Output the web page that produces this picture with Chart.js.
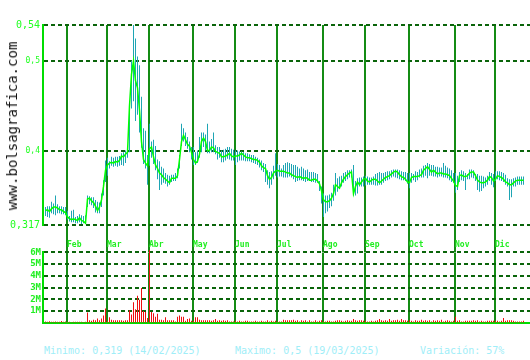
<!DOCTYPE html>
<html>
<head>
<meta charset="utf-8">
<script src="https://cdn.jsdelivr.net/npm/chart.js@4.4.1/dist/chart.umd.min.js"></script>
<style>
    body { margin: 0; background: #fff; width: 530px; height: 360px; overflow: hidden; position: relative; font-family: 'DejaVu Sans Mono', monospace; }
    #priceChart { position: absolute; left: 0; top: 0; }
    #volChart { position: absolute; left: 0; top: 245px; }
    .site { position: absolute; left: 12px; top: 126px; transform: translate(-50%, -50%) rotate(-90deg); font-size: 14px; color: #111; white-space: nowrap; }
    .info { position: absolute; top: 345px; font-size: 10px; line-height: 12px; color: #a0eef8; white-space: nowrap; }
</style>
</head>
<body>
<canvas id="priceChart" width="530" height="252"></canvas>
<canvas id="volChart" width="530" height="85"></canvas>
<div class="site">www.bolsagrafica.com</div>
<div class="info" style="left:44px">Minimo: 0,319 (14/02/2025)</div>
<div class="info" style="left:235px">Maximo: 0,5 (19/03/2025)</div>
<div class="info" style="left:420px">Variación: 57%</div>
<script>
// daily closes, one per trading day (Jan .. Dic)
const closes = [
    0.333,0.334,0.332,0.335,0.337,0.337,0.336,0.334,0.334,0.332,0.331,
    0.326,0.324,0.323,0.324,0.323,0.322,0.325,0.322,0.321,0.319,0.346,0.347,0.344,0.342,0.338,0.333,0.337,0.345,0.36,0.378,
    0.384,0.386,0.387,0.386,0.388,0.387,0.389,0.394,0.393,0.396,0.398,0.45,0.485,0.5,0.478,0.47,0.445,0.41,0.39,0.386,0.383,
    0.402,0.404,0.393,0.384,0.38,0.375,0.373,0.37,0.368,0.366,0.364,0.369,0.369,0.369,0.372,0.39,0.41,0.417,0.412,0.407,0.405,0.398,
    0.39,0.386,0.388,0.396,0.41,0.414,0.41,0.4,0.4,0.404,0.403,0.399,0.398,0.397,0.393,0.393,0.394,0.395,0.397,0.394,0.393,
    0.394,0.394,0.395,0.397,0.395,0.393,0.392,0.392,0.391,0.39,0.39,0.389,0.387,0.383,0.381,0.38,0.372,0.368,0.37,0.375,0.377,
    0.378,0.377,0.377,0.377,0.376,0.375,0.375,0.373,0.372,0.371,0.37,0.371,0.37,0.369,0.37,0.369,0.367,0.367,0.368,0.368,0.366,0.363,0.355,
    0.345,0.343,0.343,0.344,0.347,0.352,0.362,0.36,0.358,0.364,0.368,0.371,0.373,0.375,0.376,0.352,0.36,0.365,0.362,0.365,0.368,
    0.369,0.366,0.365,0.367,0.368,0.368,0.366,0.364,0.366,0.368,0.37,0.371,0.372,0.374,0.376,0.377,0.376,0.373,0.371,0.37,0.368,0.365,
    0.364,0.37,0.371,0.371,0.371,0.372,0.373,0.378,0.38,0.382,0.379,0.376,0.378,0.376,0.374,0.375,0.375,0.374,0.374,0.373,0.372,0.369,0.366,
    0.361,0.36,0.372,0.373,0.371,0.371,0.372,0.375,0.376,0.376,0.372,0.367,0.365,0.364,0.364,0.365,0.367,0.371,0.37,0.366,
    0.368,0.372,0.371,0.37,0.368,0.365,0.364,0.362,0.362,0.364,0.366,0.367,0.367,0.367,0.367
];
const highs = [
    0.337,0.338,0.338,0.343,0.341,0.35,0.34,0.338,0.338,0.337,0.337,
    0.333,0.327,0.333,0.334,0.326,0.327,0.329,0.328,0.327,0.328,0.35,0.349,0.348,0.348,0.345,0.343,0.342,0.352,0.367,0.389,
    0.392,0.388,0.393,0.392,0.393,0.393,0.394,0.397,0.398,0.4,0.4,0.453,0.5,0.54,0.525,0.505,0.495,0.46,0.425,0.422,0.395,
    0.43,0.41,0.412,0.405,0.39,0.388,0.382,0.38,0.375,0.373,0.372,0.373,0.373,0.375,0.38,0.395,0.43,0.425,0.42,0.415,0.41,0.404,
    0.404,0.398,0.4,0.415,0.42,0.42,0.418,0.43,0.41,0.413,0.42,0.406,0.404,0.404,0.4,0.401,0.402,0.404,0.404,0.402,0.401,
    0.4,0.4,0.399,0.399,0.398,0.397,0.397,0.396,0.395,0.395,0.393,0.392,0.39,0.389,0.386,0.385,0.378,0.376,0.377,0.383,0.397,
    0.385,0.384,0.38,0.384,0.386,0.387,0.386,0.385,0.384,0.384,0.382,0.38,0.382,0.38,0.378,0.379,0.376,0.376,0.376,0.375,0.374,0.366,0.36,
    0.352,0.35,0.35,0.351,0.353,0.362,0.375,0.369,0.371,0.372,0.375,0.376,0.378,0.378,0.379,0.384,0.366,0.369,0.37,0.37,0.371,
    0.372,0.371,0.37,0.37,0.371,0.374,0.375,0.376,0.375,0.375,0.376,0.377,0.377,0.378,0.379,0.379,0.379,0.378,0.377,0.376,0.376,0.375,
    0.375,0.375,0.374,0.377,0.376,0.379,0.38,0.383,0.384,0.386,0.385,0.384,0.384,0.382,0.382,0.381,0.381,0.386,0.383,0.381,0.38,0.378,0.375,
    0.375,0.372,0.376,0.378,0.377,0.375,0.374,0.379,0.379,0.378,0.374,0.374,0.372,0.372,0.371,0.37,0.372,0.376,0.375,0.374,
    0.377,0.377,0.377,0.376,0.375,0.373,0.369,0.368,0.368,0.369,0.37,0.371,0.371,0.371,0.371
];
const lows = [
    0.327,0.326,0.325,0.33,0.329,0.328,0.33,0.33,0.329,0.329,0.328,
    0.323,0.321,0.32,0.32,0.319,0.319,0.32,0.318,0.319,0.318,0.337,0.34,0.339,0.336,0.331,0.33,0.33,0.337,0.35,0.365,
    0.372,0.38,0.383,0.382,0.383,0.382,0.383,0.384,0.383,0.386,0.392,0.398,0.447,0.455,0.433,0.44,0.42,0.403,0.385,0.38,0.362,
    0.383,0.392,0.385,0.378,0.368,0.356,0.362,0.364,0.363,0.36,0.362,0.365,0.366,0.366,0.369,0.38,0.405,0.41,0.405,0.402,0.398,0.39,
    0.384,0.384,0.386,0.392,0.398,0.404,0.4,0.397,0.397,0.398,0.398,0.396,0.39,0.392,0.387,0.387,0.389,0.391,0.39,0.389,0.389,
    0.384,0.387,0.389,0.389,0.389,0.388,0.388,0.388,0.387,0.386,0.385,0.384,0.381,0.378,0.376,0.365,0.362,0.358,0.362,0.368,0.372,
    0.37,0.371,0.371,0.37,0.37,0.37,0.371,0.37,0.368,0.365,0.366,0.367,0.367,0.366,0.365,0.366,0.366,0.365,0.365,0.364,0.364,0.355,0.341,
    0.326,0.33,0.332,0.336,0.338,0.344,0.35,0.354,0.358,0.36,0.364,0.366,0.368,0.37,0.37,0.35,0.35,0.352,0.36,0.36,0.36,
    0.361,0.362,0.362,0.362,0.362,0.361,0.361,0.362,0.362,0.364,0.366,0.367,0.368,0.37,0.371,0.37,0.369,0.368,0.367,0.367,0.366,0.363,
    0.358,0.364,0.367,0.365,0.367,0.37,0.37,0.37,0.372,0.369,0.372,0.372,0.371,0.371,0.37,0.371,0.371,0.37,0.37,0.369,0.367,0.365,0.364,
    0.353,0.356,0.365,0.367,0.366,0.356,0.368,0.368,0.37,0.369,0.366,0.356,0.354,0.355,0.358,0.36,0.362,0.366,0.362,0.359,
    0.366,0.368,0.367,0.366,0.365,0.362,0.36,0.345,0.348,0.36,0.36,0.362,0.362,0.362,0.362
];
// volume in millions
const volumes = [
    0.1,0.08,0.12,0.08,0.08,0.1,0.08,0.08,0.14,0.08,0.1,
    0.08,0.08,0.06,0.08,0.08,0.08,0.08,0.08,0.06,0.08,0.87,0.2,0.15,0.25,0.2,0.35,0.2,0.35,0.6,1.2,
    0.15,0.45,0.25,0.2,0.2,0.2,0.2,0.2,0.15,0.2,0.2,1.05,0.7,1.75,1.15,2.3,1.95,2.95,1.0,0.9,0.4,
    6.2,0.9,0.8,0.5,0.75,0.25,0.25,0.2,0.45,0.2,0.2,0.2,0.2,0.1,0.5,0.6,0.5,0.5,0.15,0.3,0.35,0.15,
    0.15,0.45,0.45,0.25,0.2,0.2,0.2,0.2,0.2,0.15,0.2,0.3,0.15,0.2,0.15,0.2,0.15,0.2,0.1,0.1,0.1,
    0.15,0.1,0.15,0.1,0.1,0.15,0.15,0.1,0.1,0.1,0.15,0.1,0.1,0.15,0.1,0.1,0.2,0.1,0.15,0.1,0.15,
    0.1,0.1,0.1,0.25,0.2,0.2,0.2,0.2,0.25,0.15,0.2,0.1,0.2,0.15,0.2,0.1,0.2,0.1,0.1,0.2,0.1,0.15,0.2,
    0.1,0.1,0.15,0.15,0.1,0.1,0.15,0.2,0.2,0.15,0.1,0.15,0.2,0.15,0.15,0.3,0.2,0.15,0.2,0.2,0.15,
    0.15,0.1,0.1,0.15,0.1,0.15,0.2,0.3,0.2,0.15,0.2,0.15,0.3,0.15,0.2,0.2,0.25,0.15,0.3,0.2,0.2,0.15,
    0.2,0.15,0.1,0.2,0.15,0.15,0.25,0.15,0.2,0.15,0.2,0.1,0.2,0.15,0.2,0.15,0.25,0.1,0.15,0.2,0.15,0.1,0.15,
    0.5,0.15,0.2,0.1,0.1,0.15,0.15,0.15,0.15,0.2,0.15,0.2,0.1,0.15,0.1,0.1,0.15,0.15,0.15,0.15,
    0.15,0.15,0.1,0.15,0.4,0.15,0.2,0.2,0.2,0.15,0.1,0.1,0.1,0.1,0.15
];
const monthNames = ['Feb', 'Mar', 'Abr', 'May', 'Jun', 'Jul', 'Ago', 'Sep', 'Oct', 'Nov', 'Dic'];
const monthStart = [11, 31, 52, 74, 95, 116, 139, 160, 182, 205, 225];
const priceTicks = [0.317, 0.4, 0.5, 0.54];
const volTicks = [1, 2, 3, 4, 5, 6];

// month separators sit just before the first session of each month
const monthTickValues = monthStart.map(s => s - 0.25);
const xMin = -1.25, xMax = 242.25;
const fontFamily = 'DejaVu Sans Mono';

function setMonthTicks(scale) {
    scale.ticks = monthTickValues.map(v => ({ value: v }));
}

new Chart(document.getElementById('priceChart'), {
    data: {
        datasets: [{
            type: 'line',
            data: closes.map((c, i) => ({ x: i, y: c })),
            borderColor: '#00ff00',
            borderWidth: 1.5,
            pointRadius: 0,
            tension: 0,
            order: 0
        }, {
            type: 'bar',
            data: closes.map((c, i) => ({ x: i, y: [lows[i], highs[i]] })),
            backgroundColor: '#1ea5b4',
            barThickness: 1,
            inflateAmount: 0,
            order: 1
        }]
    },
    options: {
        responsive: false,
        animation: false,
        events: [],
        layout: { padding: { top: 25, left: 0, right: 0, bottom: 0 } },
        plugins: { legend: { display: false }, tooltip: { enabled: false } },
        scales: {
            x: {
                type: 'linear', min: xMin, max: xMax, offset: false,
                afterBuildTicks: setMonthTicks,
                afterFit: s => { s.height = 27; },
                grid: { color: '#148c14', lineWidth: 2, tickLength: 27, offset: false },
                border: { display: false },
                ticks: {
                    align: 'start', padding: -12, maxRotation: 0, autoSkip: false,
                    color: '#22ee22',
                    font: { family: fontFamily, size: 8, weight: 'bold' },
                    callback: (v, i) => monthNames[i]
                }
            },
            y: {
                min: 0.317, max: 0.54,
                afterBuildTicks: s => { s.ticks = priceTicks.map(v => ({ value: v })); },
                afterFit: s => { s.width = 43; },
                grid: { color: '#0a640a', lineWidth: 2, drawTicks: false },
                border: { display: true, color: '#00dd00', width: 2, dash: [4, 3] },
                ticks: {
                    padding: 3,
                    color: '#22ff22',
                    font: ctx => ({
                        family: fontFamily,
                        size: (ctx.tick && (ctx.tick.value === 0.4 || ctx.tick.value === 0.5)) ? 8 : 10
                    }),
                    callback: v => String(v).replace('.', ',')
                }
            }
        }
    }
});

new Chart(document.getElementById('volChart'), {
    data: {
        datasets: [{
            type: 'bar',
            data: volumes.map((v, i) => ({ x: i, y: v })),
            backgroundColor: '#ee1111',
            barThickness: 1,
            inflateAmount: 0,
            clip: false
        }]
    },
    options: {
        responsive: false,
        animation: false,
        events: [],
        layout: { padding: { top: 7, left: 0, right: 0, bottom: 0 } },
        plugins: { legend: { display: false }, tooltip: { enabled: false } },
        scales: {
            x: {
                type: 'linear', min: xMin, max: xMax, offset: false,
                afterBuildTicks: setMonthTicks,
                afterFit: s => { s.height = 4; },
                grid: { color: '#148c14', lineWidth: 2, drawTicks: false, offset: false },
                border: { display: true, color: '#00dd00', width: 2 },
                ticks: { display: false }
            },
            y: {
                min: 0, max: 6,
                afterBuildTicks: s => { s.ticks = volTicks.map(v => ({ value: v })); },
                afterFit: s => { s.width = 43; },
                grid: { color: '#0a640a', lineWidth: 2, drawTicks: false },
                border: { display: true, color: '#00dd00', width: 2, dash: [4, 3] },
                ticks: {
                    padding: 2,
                    color: '#22ee22',
                    font: { family: fontFamily, size: 9, weight: 'bold' },
                    callback: v => v + 'M'
                }
            }
        }
    }
});
</script>
</body>
</html>
